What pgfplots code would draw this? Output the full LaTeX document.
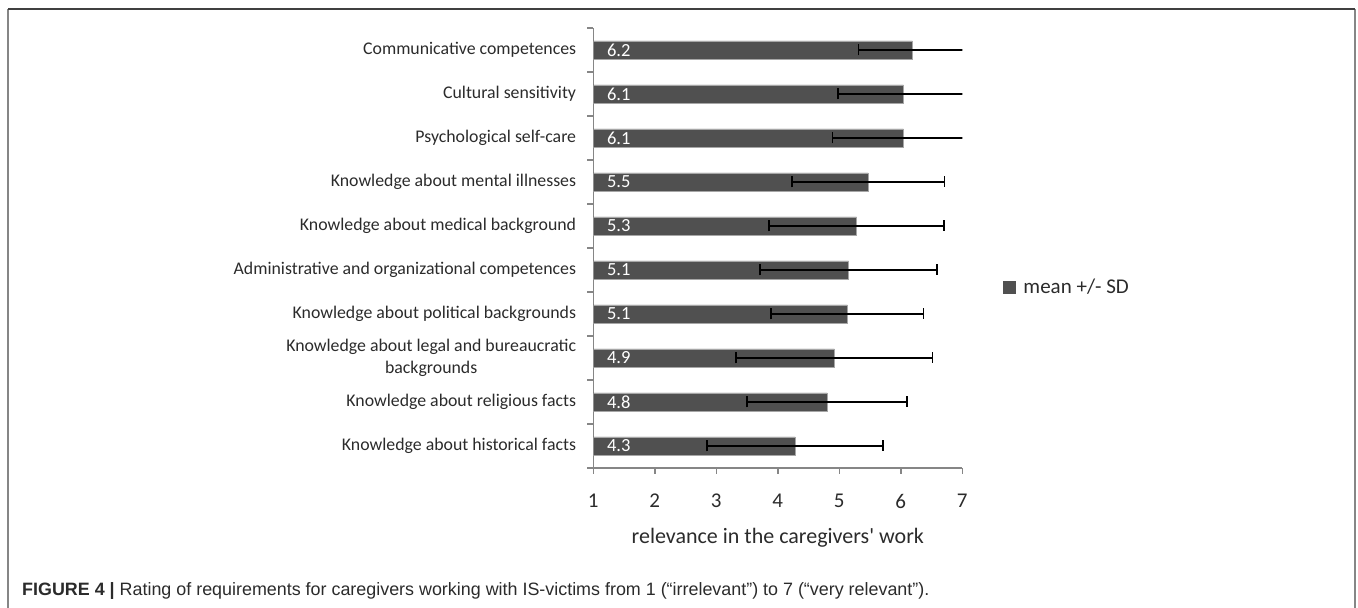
\documentclass[border=0pt]{standalone}
\usepackage{fontspec}
\setmainfont{Carlito}
\newfontfamily\capfont{Liberation Sans}
\usepackage{pgfplots}
\pgfplotsset{compat=1.18}

\definecolor{barfill}{HTML}{505050}
\definecolor{axisgray}{HTML}{868686}
\definecolor{labelcol}{HTML}{2B2B2B}

\begin{document}
\begin{tikzpicture}
\path[use as bounding box] (0,0) rectangle (1358pt,608pt);
% figure frame (open at the bottom)
\draw[axisgray, line width=1.5pt] (8pt,0) -- (8pt,599pt);
\draw[axisgray, line width=1.5pt] (1355pt,0) -- (1355pt,599pt);
\draw[black!75, line width=1.5pt] (8pt,599pt) -- (1355pt,599pt);

\begin{axis}[
    scale only axis,
    width=369pt, height=440pt,
    at={(593.3pt,140pt)}, anchor=south west,
    xmin=1, xmax=7,
    ymin=0.5, ymax=10.5,
    axis x line*=bottom,
    axis y line*=left,
    axis line style={axisgray, line width=1.5pt},
    tick align=outside,
    xtick={1,...,7},
    major x tick style={axisgray, line width=1.5pt},
    major tick length=6pt,
    minor tick length=6pt,
    ytick={1,...,10},
    minor ytick={0.5,1.5,...,10.5},
    major y tick style={draw=none},
    minor y tick style={axisgray, line width=1.5pt},
    yticklabels={
        Knowledge about historical facts,
        Knowledge about religious facts,
        {Knowledge about legal and bureaucratic\\backgrounds},
        Knowledge about political backgrounds,
        Administrative and organizational competences,
        Knowledge about medical background,
        Knowledge about mental illnesses,
        Psychological self-care,
        Cultural sensitivity,
        Communicative competences
    },
    yticklabel style={font=\fontsize{17.8}{21.5}\selectfont, text=labelcol,
        align=center, anchor=east, inner sep=0pt, xshift=-11pt},
    /pgf/number format/assume math mode=true,
    xticklabel style={font=\fontsize{21}{25}\selectfont, text=labelcol,
        anchor=center, inner sep=0pt, yshift=-27pt},
    xlabel={relevance in the caregivers\textquotesingle\ work},
    xlabel style={font=\fontsize{22}{26}\selectfont, text=labelcol,
        at={(axis description cs:0.5,0)}, anchor=center, inner sep=0pt, yshift=-70pt},
    legend style={draw=none, fill=none, at={(axis description cs:1.11,0.411)},
        anchor=west, inner sep=0pt, font=\fontsize{21}{25}\selectfont,
        text=labelcol, legend cell align=left,
        /tikz/every odd column/.append style={column sep=6pt}},
    legend image code/.code={\fill[barfill] (0pt,-6pt) rectangle (12pt,6pt);},
]
\addplot[xbar, bar width=0.41, fill=barfill, draw=gray!70,
    error bars/.cd, x dir=both, x explicit,
    error bar style={black, line width=1.4pt},
    error mark options={black, rotate=90, mark size=5.5pt, line width=1.4pt}]
coordinates {
    (4.28,1) +- (1.43,0)
    (4.80,2) +- (1.30,0)
    (4.92,3) +- (1.60,0)
    (5.13,4) +- (1.24,0)
    (5.15,5) +- (1.44,0)
    (5.28,6) +- (1.42,0)
    (5.47,7) +- (1.24,0)
    (6.04,8) +- (1.15,0)
    (6.04,9) +- (1.06,0)
    (6.19,10) +- (0.88,0)
};
\addlegendentry{mean +/- SD}

\addplot[draw=none, mark=none, forget plot,
    nodes near coords, point meta=explicit symbolic,
    nodes near coords style={anchor=west, text=white, inner sep=0pt,
        xshift=13.5pt, font=\fontsize{18.5}{22}\selectfont}]
coordinates {
    (1,1) [4.3]
    (1,2) [4.8]
    (1,3) [4.9]
    (1,4) [5.1]
    (1,5) [5.1]
    (1,6) [5.3]
    (1,7) [5.5]
    (1,8) [6.1]
    (1,9) [6.1]
    (1,10) [6.2]
};
\end{axis}

\node[anchor=west, inner sep=0pt, text=labelcol,
      font=\capfont\fontsize{17.9}{21}\selectfont] at (22pt,17pt)
    {{\bfseries FIGURE 4 |} Rating of requirements for caregivers working with IS-victims from 1 (“irrelevant”) to 7 (“very relevant”).};
\end{tikzpicture}
\end{document}
